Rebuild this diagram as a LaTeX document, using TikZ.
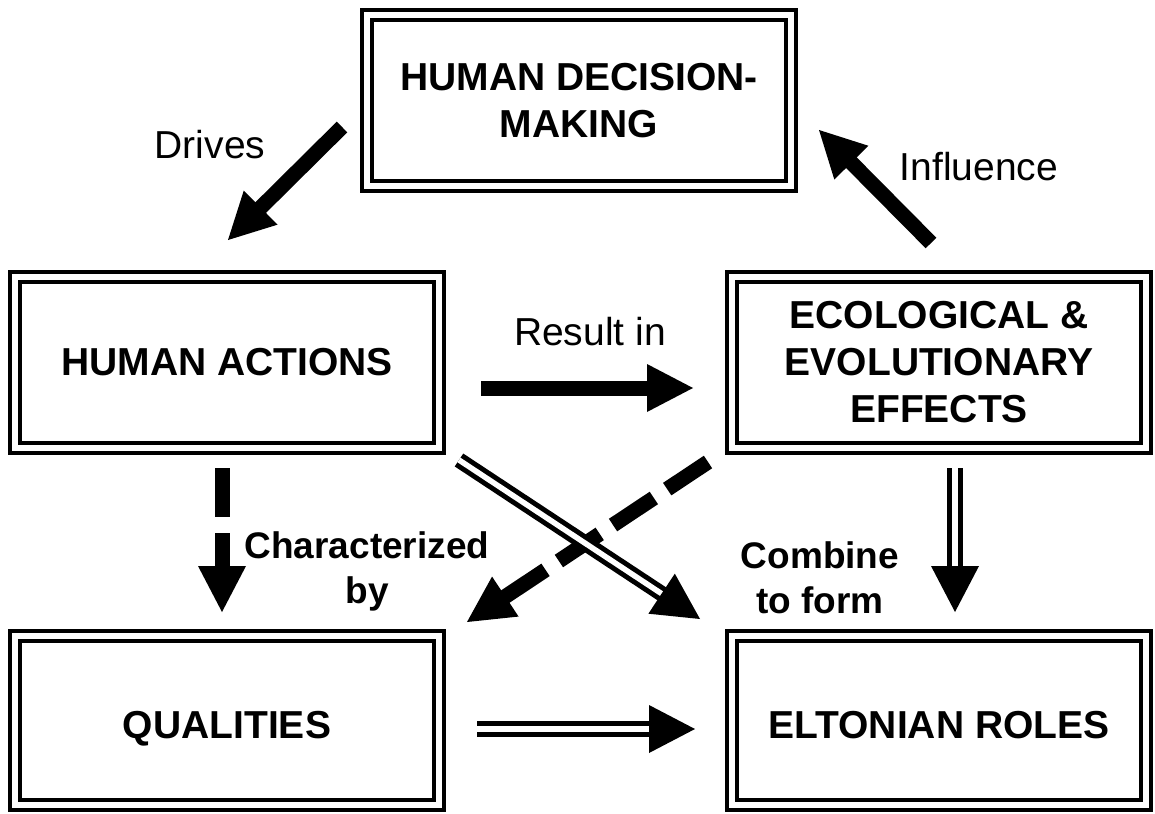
\documentclass[tikz,border=0pt]{standalone}
\usepackage{fontspec}
\setmainfont{Liberation Sans}
\usetikzlibrary{calc}
\newcommand\myhead[2]{\fill ($(#1)!46pt!(#2)!24pt!90:(#1)$) -- (#1) -- ($(#1)!46pt!(#2)!24pt!-90:(#1)$) -- cycle;}
\begin{document}
\begin{tikzpicture}[x=1pt,y=-1pt,
  box/.style={draw=black, line width=3.8pt, double=white, double distance=6.5pt, inner sep=0pt, align=center, font=\bfseries\fontsize{39}{47}\selectfont},
  lowtext/.style={text height=40pt, text depth=4pt},
  lbl/.style={inner sep=0pt, font=\fontsize{39}{47}\selectfont},
  blbl/.style={inner sep=0pt, align=center, font=\bfseries\fontsize{37}{45}\selectfont},
  shaft/.style={draw=black, line width=15pt},
  dshaft/.style={draw=black, line width=15pt, dash pattern=on 49pt off 16pt},
  dblshaft/.style={draw=black, line width=5pt, double=white, double distance=5.5pt},
]
\useasboundingbox (0,0) rectangle (1155,813);
\fill[white] (0,0) rectangle (1155,813);

% boxes
\node[box, minimum width=423.9pt, minimum height=170.9pt] (hdm) at (579,100.5) {HUMAN DECISION-\\MAKING};
\node[box, minimum width=423.9pt, minimum height=170.9pt] (ha) at (227,362.5) {HUMAN ACTIONS};
\node[box, minimum width=413.9pt, minimum height=170.9pt] (ee) at (939,362.5) {ECOLOGICAL \&\\EVOLUTIONARY\\EFFECTS};
\node[box, lowtext, minimum width=423.9pt, minimum height=168.9pt] (q) at (227,720.5) {QUALITIES};
\node[box, lowtext, minimum width=413.9pt, minimum height=168.9pt] (er) at (939,720.5) {ELTONIAN ROLES};

% arrow end points
\coordinate (a1s) at (342,127); \coordinate (a1e) at (228,240);
\coordinate (a2s) at (931,243); \coordinate (a2e) at (819,130);
\coordinate (a3s) at (481,388); \coordinate (a3e) at (693,388);
\coordinate (a4s) at (222,468); \coordinate (a4e) at (222,612);
\coordinate (a5s) at (708,462); \coordinate (a5e) at (467,622);
\coordinate (d1s) at (459,460); \coordinate (d1e) at (700,619);
\coordinate (d2s) at (955,468); \coordinate (d2e) at (955,612);
\coordinate (d3s) at (477,729); \coordinate (d3e) at (695,729);

% solid thick arrows
\draw[shaft] (a1s) -- ($(a1e)!44pt!(a1s)$); \myhead{a1e}{a1s}
\draw[shaft] (a2s) -- ($(a2e)!44pt!(a2s)$); \myhead{a2e}{a2s}
\draw[shaft] (a3s) -- ($(a3e)!44pt!(a3s)$); \myhead{a3e}{a3s}
% dashed thick arrows
\draw[dshaft] (a4s) -- ($(a4e)!44pt!(a4s)$); \myhead{a4e}{a4s}
\draw[dshaft] (a5s) -- ($(a5e)!44pt!(a5s)$); \myhead{a5e}{a5s}
% double arrows
\draw[dblshaft] (d1s) -- ($(d1e)!44pt!(d1s)$); \myhead{d1e}{d1s}
\draw[dblshaft] (d2s) -- ($(d2e)!44pt!(d2s)$); \myhead{d2e}{d2s}
\draw[dblshaft] (d3s) -- ($(d3e)!44pt!(d3s)$); \myhead{d3e}{d3s}

% labels
\node[lbl, anchor=base] (ldrives) at (210,159) {Drives};
\node[lbl, anchor=base] (linfl) at (979,180) {Influence};
\node[lbl, anchor=base] (lres) at (590,345) {Result in};
\node[blbl, anchor=north] (lchar) at (367,531) {Characterized\\by};
\node[blbl, anchor=north] (lcomb) at (820,541) {Combine\\to form};
\end{tikzpicture}
\end{document}
